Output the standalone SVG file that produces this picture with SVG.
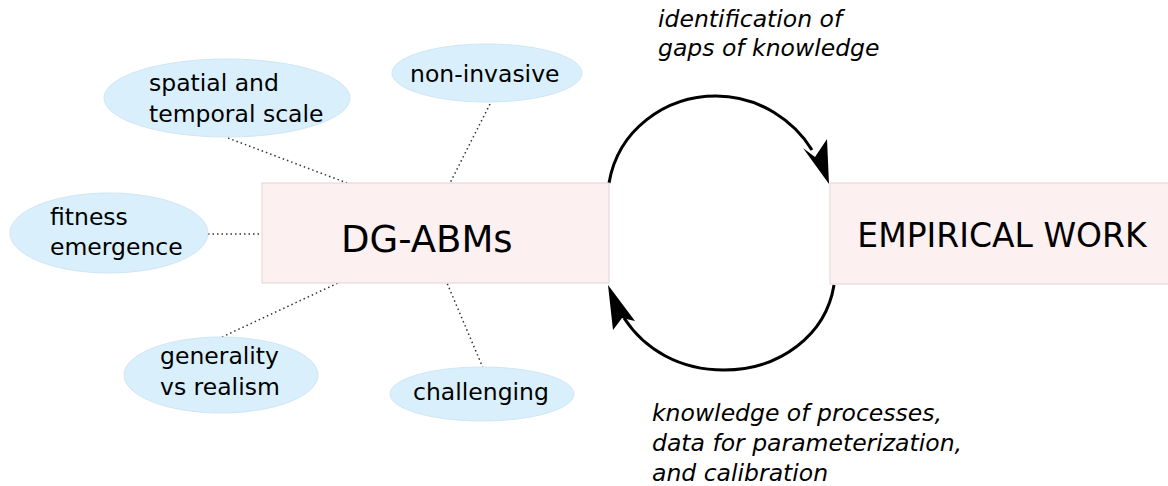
<svg xmlns="http://www.w3.org/2000/svg" width="1168" height="486" viewBox="0 0 1168 486">
<style>
.box{fill:#fdf0f0;stroke:#e2d4d4;stroke-width:1}
.ell{fill:#d9f0fc;stroke:#cfe6f3;stroke-width:1}
.t{font-family:"DejaVu Sans",Verdana,sans-serif;fill:#000}
.e{font-size:23.5px}
.lab{font-size:23.5px;font-style:italic}
.dot{stroke:#333;stroke-width:1.5;stroke-dasharray:1.5 3;fill:none}
.arc{stroke:#000;stroke-width:3;fill:none}
</style>
<rect width="1168" height="486" fill="#fff"/>
<g id="connectors">
<line class="dot" x1="228" y1="138" x2="347" y2="183"/>
<line class="dot" x1="490" y1="104" x2="450" y2="183"/>
<line class="dot" x1="208" y1="234" x2="262" y2="234"/>
<line class="dot" x1="222" y1="337" x2="338" y2="283"/>
<line class="dot" x1="483" y1="368" x2="447" y2="283"/>
<path class="arc" d="M 609 183 C 618 130, 665 96, 716 96 C 760 96, 795 122, 812 150"/>
<polygon points="829,184 803,148 815,157 827,139" fill="#000"/>
<path class="arc" d="M 834 285 C 826 335, 780 370, 724 370 C 680 370, 645 350, 624 318"/>
<polygon points="608,285 613,330 622,318 635,321" fill="#000"/>
</g>
<g id="dgabms">
<rect class="box" x="262" y="183" width="347" height="100"/>
<text class="t" x="341" y="252" font-size="37">DG-ABMs</text>
</g>
<g id="empirical">
<rect class="box" x="830" y="183" width="340" height="101"/>
<text class="t" x="1002" y="247" font-size="33" text-anchor="middle">EMPIRICAL WORK</text>
</g>
<g id="spatial">
<ellipse class="ell" cx="227" cy="98" rx="123" ry="39"/>
<text class="t e" x="149" y="91">spatial and</text>
<text class="t e" x="149" y="122">temporal scale</text>
</g>
<g id="noninvasive">
<ellipse class="ell" cx="487" cy="73" rx="95" ry="29"/>
<text class="t e" x="410" y="82">non-invasive</text>
</g>
<g id="fitness">
<ellipse class="ell" cx="109" cy="233" rx="99" ry="40"/>
<text class="t e" x="50" y="225">fitness</text>
<text class="t e" x="50" y="255">emergence</text>
</g>
<g id="generality">
<ellipse class="ell" cx="221" cy="375" rx="97" ry="38"/>
<text class="t e" x="160" y="364">generality</text>
<text class="t e" x="160" y="395">vs realism</text>
</g>
<g id="challenging">
<ellipse class="ell" cx="482" cy="394" rx="92" ry="27"/>
<text class="t e" x="413" y="400">challenging</text>
</g>
<g id="label-top">
<text class="t lab" x="658" y="27">identification of</text>
<text class="t lab" x="658" y="56">gaps of knowledge</text>
</g>
<g id="label-bottom">
<text class="t lab" x="652" y="421">knowledge of processes,</text>
<text class="t lab" x="652" y="451">data for parameterization,</text>
<text class="t lab" x="652" y="481">and calibration</text>
</g>
</svg>
